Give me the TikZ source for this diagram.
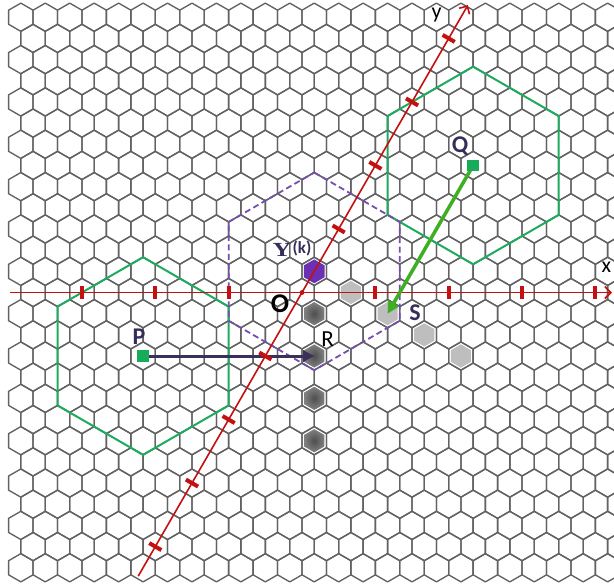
\documentclass[tikz,border=0pt]{standalone}
\usepackage{fontspec}
\setmainfont{Carlito}
\newfontfamily\serifY{Liberation Serif}
\usetikzlibrary{arrows.meta}
\definecolor{gridgray}{RGB}{98,98,98}
\definecolor{axred}{RGB}{196,16,16}
\definecolor{hexgreen}{RGB}{30,170,95}
\definecolor{sqgreen}{RGB}{22,172,90}
\definecolor{arrgreen}{RGB}{62,174,34}
\definecolor{navy}{RGB}{58,48,92}
\definecolor{lblnavy}{RGB}{55,45,90}
\definecolor{dashpurple}{RGB}{118,78,178}
\definecolor{ypurple}{RGB}{108,48,180}
\definecolor{lightcell}{RGB}{190,190,190}
\definecolor{darkin}{RGB}{78,78,78}
\definecolor{darkout}{RGB}{128,128,128}
\tikzset{
  hexcell/.pic={\path[pic actions] (0,-#1) -- (0.8660254*#1,-0.5*#1) -- (0.8660254*#1,0.5*#1) -- (0,#1) -- (-0.8660254*#1,0.5*#1) -- (-0.8660254*#1,-0.5*#1) -- cycle;},
  gridline/.style={draw=gridgray, line width=1.35pt, line join=round},
  lightfill/.style={fill=lightcell},
  darkfill/.style={shade, inner color=darkin, outer color=darkout},
  yfill/.style={fill=ypurple},
  bighex/.style={draw=hexgreen, line width=2pt, line join=round},
  dashhex/.style={draw=dashpurple, line width=1.8pt, dash pattern=on 6pt off 3.5pt},
  axis/.style={draw=axred, line width=1.6pt, -{Straight Barb[length=6pt,width=12pt,line width=1.6pt]}},
  tickmark/.style={draw=axred, line width=4pt},
  navyarrow/.style={draw=navy, line width=3pt, -{Triangle[length=11pt,width=11pt]}},
  greenarrow/.style={draw=arrgreen, line width=3.5pt, -{Triangle[length=12pt,width=12pt]}},
  sq/.style={fill=sqgreen, minimum size=11.5pt, inner sep=0pt, draw=none},
  lbl/.style={inner sep=0pt, text=lblnavy, font=\fontsize{24}{24}\selectfont\bfseries},
  blbl/.style={inner sep=0pt, text=black, font=\fontsize{23}{23}\selectfont},
  axlbl/.style={inner sep=0pt, text=black, font=\fontsize{22}{22}\selectfont},
}
\begin{document}
\begin{tikzpicture}[x=1pt,y=-1pt]
\useasboundingbox (0,0) rectangle (614,587);
\fill[white] (0,0) rectangle (614,587);
% hexagonal grid
\begin{scope}
\clip (0,0) rectangle (614,587);
\foreach \j in {-13,...,13}{
  \pgfmathsetmacro\xs{ifthenelse(mod(abs(\j),2)==1,20.825,33.05)}
  \pgfmathsetmacro\cy{292.5-21.174*\j}
  \foreach \k in {0,...,24}{
    \pic[gridline] at ({\xs+24.45*\k},\cy) {hexcell=14.116};
  }
}
\end{scope}
% named cells
\coordinate (O) at (302,292.5);
\coordinate (Yk) at (314.225,271.326);
\coordinate (L1) at (350.9,292.5);
\coordinate (D1) at (314.225,313.674);
\coordinate (R) at (314.225,356.02);
\coordinate (D3) at (314.225,398.37);
\coordinate (D4) at (314.225,440.72);
\coordinate (S) at (387.575,313.674);
\coordinate (L3) at (424.25,334.85);
\coordinate (L4) at (460.925,356.02);
\coordinate (Pc) at (143.075,356.02);
\coordinate (Qc) at (473.15,165.46);
% highlighted cells
\pic[yfill] at (Yk) {hexcell=11.9};
\foreach \c in {L1,S,L3,L4} \pic[lightfill] at (\c) {hexcell=11.6};
\foreach \c in {D1,R,D3,D4} \pic[darkfill] at (\c) {hexcell=11.6};
% large hexagons
\pic[bighex] at (Pc) {hexcell=98.81};
\pic[bighex] at (Qc) {hexcell=98.81};
\pic[dashhex] at (Yk) {hexcell=98.81};
% P to R arrow
\node[sq] (P) at (Pc) {};
\node[sq] (Q) at (Qc) {};
\draw[navyarrow] (P.center) -- (R);
% axes
\coordinate (xs) at (10,292.5);
\coordinate (xe) at (612,292.5);
\coordinate (ys) at (138.25,576.1);
\coordinate (ye) at (467.9,5.1);
\draw[axis] (xs) -- (xe);
\draw[axis] (ys) -- (ye);
\foreach \k in {-3,-2,-1,1,2,3,4}
  \draw[tickmark] ({302+73.35*\k},286) -- ++(0,13);
\foreach \k in {-4,-3,-2,-1,1,2,3,4}
  \draw[tickmark] ({302+36.675*\k-6.06},{292.5-63.52*\k-3.5}) -- ++(12.12,7);
\fill[axred] (O) circle (2.4);
% Q to S arrow
\draw[greenarrow] (Q.center) -- (S);
\node[sq] at (Pc) {};
\node[sq] at (Qc) {};
% labels
\node[lbl] (plbl) at (139,337) {P};
\node[lbl] (qlbl) at (460,146) {Q};
\node[lbl] (slbl) at (415,312.5) {S};
\node[blbl] (rlbl) at (327.5,339) {R};
\node[inner sep=0pt, font=\fontsize{27}{27}\selectfont\bfseries] (olbl) at (280,303.5) {O};
\node[inner sep=0pt, text=lblnavy, xscale=1.3, font=\fontsize{20}{20}\selectfont\serifY\bfseries] (ylbl) at (282,250) {Y};
\node[inner sep=0pt, text=lblnavy, font=\fontsize{17}{17}\selectfont\bfseries] (klbl) at (302,248.5) {(k)};
\node[axlbl] (xlbl) at (606.5,267) {x};
\node[axlbl] (ylb) at (436.5,15) {y};
\end{tikzpicture}
\end{document}
